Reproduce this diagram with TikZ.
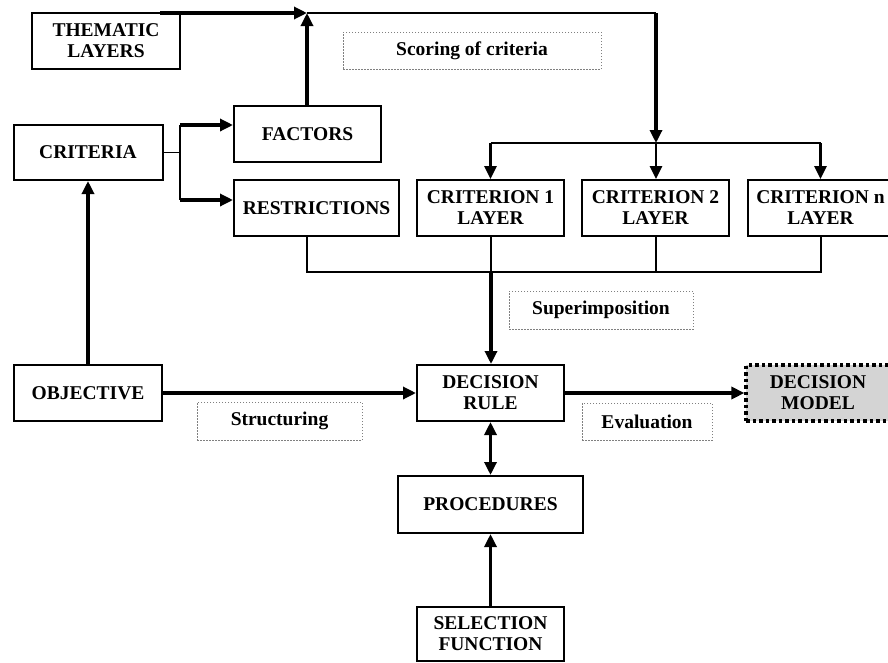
\documentclass[tikz,border=0pt]{standalone}
\usepackage{fontspec}
\setmainfont{Liberation Serif}
\usetikzlibrary{arrows.meta}
\definecolor{modelgray}{RGB}{212,212,212}
\begin{document}
\begin{tikzpicture}[x=1pt,y=-1pt,
  box/.style={draw, line width=2pt, inner sep=0pt, align=center,
    font=\fontsize{19.5}{21}\selectfont\bfseries},
  lbl/.style={draw=gray, line width=1pt, dash pattern=on 1.5pt off 1.5pt,
    inner sep=0pt, font=\fontsize{19.5}{21}\selectfont\bfseries},
  model/.style={box, fill=modelgray, line width=3.2pt, dash pattern=on 3.5pt off 3pt},
  thk/.style={line width=3.2pt, -{Triangle[length=13pt,width=12pt]}},
  thkb/.style={line width=3.2pt, {Triangle[length=13pt,width=12pt]}-{Triangle[length=13pt,width=12pt]}},
  thn/.style={line width=1.7pt},
  med/.style={line width=2.6pt, -{Triangle[length=13pt,width=12pt]}}
]
\useasboundingbox (0,0) rectangle (888,662);

% boxes
\node[box, minimum width=148pt, minimum height=56pt] (thematic) at (106,41) {THEMATIC\\LAYERS};
\node[box, minimum width=149pt, minimum height=55pt] (criteria) at (88,152.5) {CRITERIA};
\node[box, minimum width=147pt, minimum height=56pt] (factors) at (307.5,134) {FACTORS};
\node[box, minimum width=165pt, minimum height=56pt] (restr) at (316.5,208) {RESTRICTIONS};
\node[box, minimum width=147pt, minimum height=56pt] (crit1) at (490.5,208) {CRITERION 1\\LAYER};
\node[box, minimum width=147pt, minimum height=56pt] (crit2) at (655.5,208) {CRITERION 2\\LAYER};
\node[box, minimum width=145pt, minimum height=56pt] (critn) at (820.5,208) {CRITERION n\\LAYER};
\node[box, minimum width=148pt, minimum height=56pt] (objective) at (88,393) {OBJECTIVE};
\node[box, minimum width=147pt, minimum height=56pt] (rule) at (490.5,393) {DECISION\\RULE};
\node[model, minimum width=144pt, minimum height=56pt] (model) at (818,393) {DECISION\\MODEL};
\node[box, minimum width=185pt, minimum height=57pt] (proc) at (490.5,504.5) {PROCEDURES};
\node[box, minimum width=147pt, minimum height=54pt] (select) at (490.5,634) {SELECTION\\FUNCTION};

% labels
\node[lbl, minimum width=258pt, minimum height=37pt] (scoring) at (472,50.5) {Scoring of criteria};
\node[lbl, minimum width=184pt, minimum height=38pt] (superimp) at (601,310) {Superimposition};
\node[lbl, minimum width=165pt, minimum height=38pt] (structuring) at (279.5,421) {Structuring};
\node[lbl, minimum width=130pt, minimum height=37pt] (evaluation) at (647,421.5) {Evaluation};

% coordinates
\coordinate (thStart) at (160,13);
\coordinate (junc) at (307,13);
\coordinate (topright) at (656,13);
\coordinate (split) at (656,143);
\coordinate (fork) at (180,152.5);
\coordinate (facIn) at ([yshift=9pt]factors.west);
\coordinate (resIn) at ([yshift=8pt]restr.west);
\coordinate (busL) at (307,272);
\coordinate (busR) at (821,272);
\coordinate (bus1) at (491,272);
\coordinate (bus2) at (656,272);

% top flow
\draw[thk] (thStart) -- (junc);
\draw[thk] (factors.north -| junc) -- (junc);
\draw[thn] (junc) -- (topright);
\draw[thk] (topright) -- (split);
\draw[thn] (crit1.north |- split) -- (critn.north |- split);
\draw[med] (crit1.north |- split) -- (crit1.north);
\draw[med] (split) -- (crit2.north -| split);
\draw[med] (critn.north |- split) -- (critn.north);

% criteria fork
\draw[thn] (criteria.east) -- (fork);
\draw[line width=2.4pt] (fork |- facIn) -- (fork |- resIn);
\draw[thk] (fork |- facIn) -- (facIn);
\draw[thk] (fork |- resIn) -- (resIn);

% objective
\draw[thk] (objective.north) -- (criteria.south);
\draw[thk] (objective.east) -- (rule.west);

% bus
\draw[thn] (restr.south -| busL) -- (busL) -- (busR) -- (critn.south -| busR);
\draw[thn] (crit2.south -| bus2) -- (bus2);
\draw[thn] (crit1.south -| bus1) -- (bus1);
\draw[thk] (bus1) -- (rule.north -| bus1);

% lower flow
\draw[thk] (rule.east) -- (model.west);
\draw[thkb] (rule.south) -- (proc.north);
\draw[thk] (select.north) -- (proc.south);
\end{tikzpicture}
\end{document}
